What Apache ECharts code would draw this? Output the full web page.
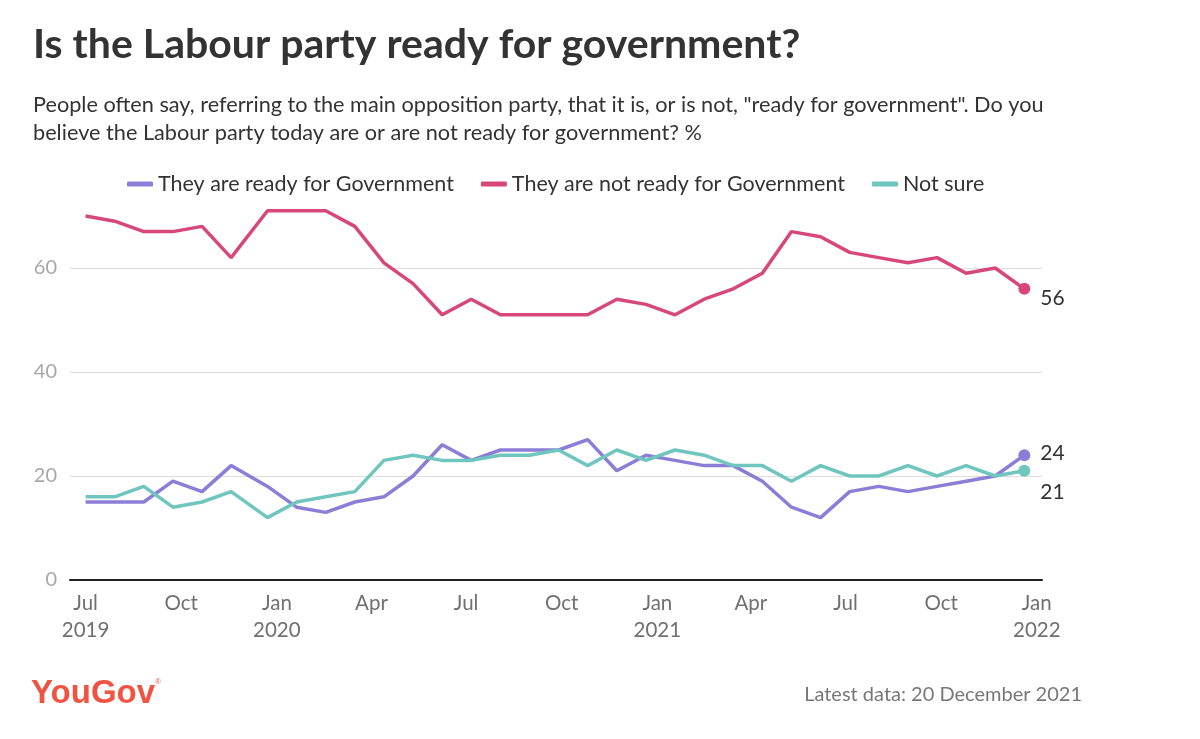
<!DOCTYPE html>
<html>
<head>
<meta charset="utf-8">
<script src="https://cdn.jsdelivr.net/npm/echarts@6/dist/echarts.min.js"></script>
<style>
html,body{margin:0;padding:0;background:#fff;}
#chart{width:1200px;height:739px;}
</style>
</head>
<body>
<div id="chart"></div>
<script>
// ---- data ----
const dates = [
  '2019-07-01','2019-07-29','2019-08-26','2019-09-23','2019-10-21','2019-11-18',
  '2019-12-23','2020-01-20','2020-02-17','2020-03-16','2020-04-13','2020-05-11',
  '2020-06-08','2020-07-06','2020-08-03','2020-08-31','2020-09-28','2020-10-26',
  '2020-11-23','2020-12-21','2021-01-18','2021-02-15','2021-03-15','2021-04-12',
  '2021-05-10','2021-06-07','2021-07-05','2021-08-02','2021-08-30','2021-09-27',
  '2021-10-25','2021-11-22','2021-12-20'
];
const ready    = [15,15,15,19,17,22,18,14,13,15,16,20,26,23,25,25,25,27,21,24,23,22,22,19,14,12,17,18,17,18,19,20,24];
const notReady = [70,69,67,67,68,62,71,71,71,68,61,57,51,54,51,51,51,51,54,53,51,54,56,59,67,66,63,62,61,62,59,60,56];
const notSure  = [16,16,18,14,15,17,12,15,16,17,23,24,23,23,24,24,25,22,25,23,25,24,22,22,19,22,20,20,22,20,22,20,21];
const seriesNames = ['They are ready for Government','They are not ready for Government','Not sure'];
const tickDates  = ['2019-07-01','2019-10-01','2020-01-01','2020-04-01','2020-07-01','2020-10-01','2021-01-01','2021-04-01','2021-07-01','2021-10-01','2022-01-01'];
const tickLabels = ['Jul\n2019','Oct','Jan\n2020','Apr','Jul','Oct','Jan\n2021','Apr','Jul','Oct','Jan\n2022'];

const colors = ['#8c7dd6','#d8477a','#6fc6bf'];
const endOffsets = [[0,-2],[0,9],[0,21]];

const ts = s => { const p = s.split('-').map(Number); return Date.UTC(p[0], p[1]-1, p[2]); };
const tickTs = tickDates.map(ts);

function buildData(vals, idx){
  return vals.map((v,i)=>{
    if(i === vals.length-1){
      return {
        value:[ts(dates[i]), v],
        symbol:'circle', symbolSize:12,
        label:{show:true, position:'right', distance:10, offset:endOffsets[idx],
               formatter: p => p.value[1], color:'#333', fontSize:21, fontFamily:'Lato'}
      };
    }
    return {value:[ts(dates[i]), v], symbol:'none'};
  });
}

const chart = echarts.init(document.getElementById('chart'), null, {renderer:'canvas'});
const valsList = [ready, notReady, notSure];

chart.setOption({
  animation:false,
  color: colors,
  textStyle:{fontFamily:'Lato'},
  title:[
    {text:'Is the Labour party ready for government?', left:28, top:19,
     textStyle:{fontFamily:'Lato', fontWeight:'bold', fontSize:41, color:'#333'}},
    {text:'People often say, referring to the main opposition party, that it is, or is not, "ready for government". Do you\nbelieve the Labour party today are or are not ready for government? %',
     left:28, top:86,
     textStyle:{fontFamily:'Lato', fontWeight:'normal', fontSize:21.7, lineHeight:28, color:'#333'}}
  ],
  legend:{
    top:168, left:122,
    itemWidth:26, itemHeight:5, itemGap:27,
    icon:'roundRect',
    textStyle:{fontFamily:'Lato', fontSize:21.5, color:'#333'},
    data: seriesNames
  },
  grid:{left:70, right:158, top:164, bottom:159},
  xAxis:{
    type:'value',
    min: ts('2019-06-16'),
    max: ts('2022-01-06'),
    axisLine:{show:true, lineStyle:{color:'#222', width:2}},
    axisTick:{show:false},
    splitLine:{show:false},
    axisLabel:{
      customValues: tickTs,
      color:'#707070', fontSize:20.5, lineHeight:27, margin:10, fontFamily:'Lato',
      formatter: function(val){
        for(let i=0;i<tickTs.length;i++){ if(Math.abs(tickTs[i]-val) < 86400000) return tickLabels[i]; }
        return '';
      }
    }
  },
  yAxis:{
    type:'value', min:0, max:80, interval:20,
    axisLine:{show:false}, axisTick:{show:false},
    axisLabel:{color:'#a8a8a8', fontSize:20, margin:13, showMaxLabel:false, fontFamily:'Lato'},
    splitLine:{show:true, showMaxLine:false, showMinLine:false, lineStyle:{color:'#dedede', width:1}}
  },
  series: seriesNames.map((n,idx)=>({
    name:n, type:'line',
    data: buildData(valsList[idx], idx),
    showSymbol:true,
    lineStyle:{width:3.5, color:colors[idx]},
    itemStyle:{color:colors[idx]},
    emphasis:{disabled:true},
    z: idx===1?3:2
  })),
  graphic:[
    {type:'text', left:31, top:677,
     style:{text:'YouGov', fontFamily:'Liberation Sans', fontWeight:'bold', fontSize:33, fill:'#ef5443'}},
    {type:'text', left:155, top:678,
     style:{text:'®', fontFamily:'Liberation Sans', fontSize:8, fill:'#ef5443'}},
    {type:'text', right:118, top:685,
     style:{text:'Latest data: 20 December 2021', fontFamily:'Lato', fontSize:20, fill:'#777', textAlign:'right'}}
  ]
});
</script>
</body>
</html>
